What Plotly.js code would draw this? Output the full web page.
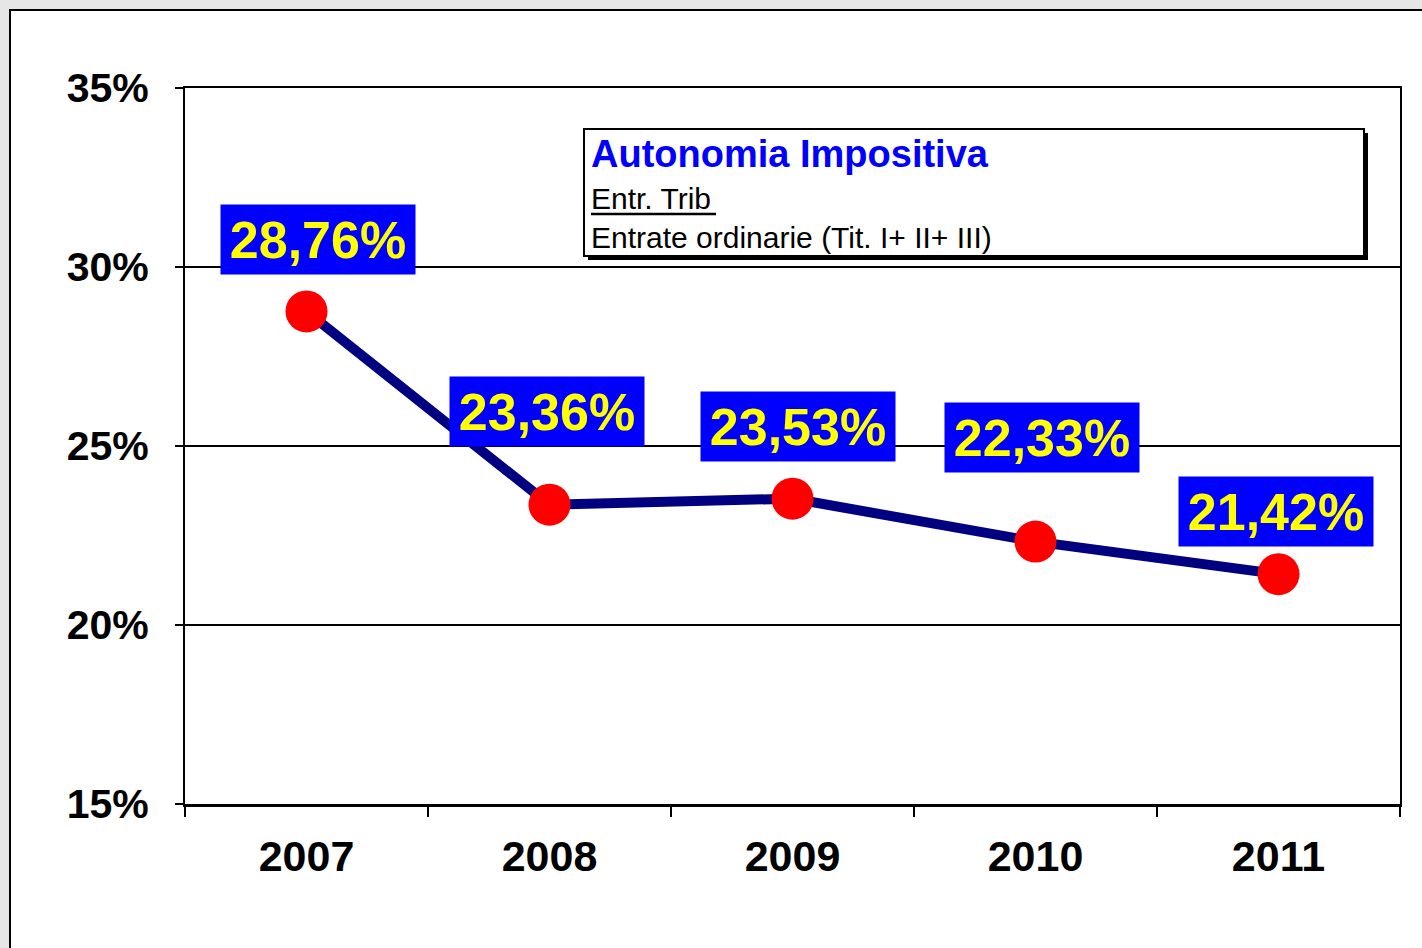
<!DOCTYPE html>
<html><head><meta charset="utf-8">
<script src="https://cdn.plot.ly/plotly-3.0.1.min.js"></script>
<style>html,body{margin:0;padding:0;background:#e6e6e6;overflow:hidden;} #chart{width:1422px;height:948px;}</style>
</head><body><div id="chart"></div>
<script>
// ---- data ----
const years = ['2007', '2008', '2009', '2010', '2011'];
const autonomia = [28.76, 23.36, 23.53, 22.33, 21.42];
const yTickVals = [15, 20, 25, 30, 35];
const yTickLabels = ['15%', '20%', '25%', '30%', '35%'];
const legendTitle = 'Autonomia Impositiva';
const legendNum = 'Entr. Trib';
const legendDen = 'Entrate ordinarie (Tit. I+ II+ III)';

// ---- label placement (pixel offsets from each point) ----
const labelDX = [11, -3, 5, 6, -3];
const labelDY = [72, 93, 72, 104, 63];

const W = 1422, H = 948, L = 185, R = 1400, T = 88, B = 804;
const px = x => (x - L) / (R - L);
const py = y => (B - y) / (B - T);
const FONT = '"Liberation Sans", Arial, Helvetica, sans-serif';

const fmt = v => v.toFixed(2).replace('.', ',') + '%';

const trace = {
  type: 'scatter', mode: 'lines+markers',
  x: years, y: autonomia,
  line: {color: '#000080', width: 10},
  marker: {color: '#ff0000', size: 42},
  cliponaxis: false, hoverinfo: 'skip', showlegend: false
};

const annotations = years.map((yr, i) => ({
  x: i, y: autonomia[i], xref: 'x', yref: 'y',
  text: '<b>' + fmt(autonomia[i]) + '</b>',
  showarrow: false, xshift: labelDX[i], yshift: labelDY[i],
  bgcolor: '#0000ff', borderpad: 2, width: 190, height: 65,
  font: {family: FONT, size: 52, color: '#ffff00'}
}));

annotations.push(
  {xref: 'paper', yref: 'paper', x: px(589), y: py(154), xanchor: 'left', yanchor: 'middle',
   text: '<b>' + legendTitle + '</b>', showarrow: false,
   font: {family: FONT, size: 38, color: '#0000ff'}},
  {xref: 'paper', yref: 'paper', x: px(589), y: py(198), xanchor: 'left', yanchor: 'middle',
   text: legendNum, showarrow: false,
   font: {family: FONT, size: 30, color: '#000000'}},
  {xref: 'paper', yref: 'paper', x: px(589), y: py(238), xanchor: 'left', yanchor: 'middle',
   text: legendDen, showarrow: false,
   font: {family: FONT, size: 30, color: '#000000'}}
);

const shapes = [
  // outer frame
  {type: 'rect', xref: 'paper', yref: 'paper', layer: 'below',
   x0: px(10), x1: px(1450), y0: py(10), y1: py(980),
   fillcolor: '#ffffff', line: {color: '#000000', width: 2}},
  // legend shadow
  {type: 'rect', xref: 'paper', yref: 'paper', layer: 'above',
   x0: px(588), x1: px(1368), y0: py(133), y1: py(260),
   fillcolor: '#000000', line: {width: 0}},
  // legend box
  {type: 'rect', xref: 'paper', yref: 'paper', layer: 'above',
   x0: px(584), x1: px(1364), y0: py(129), y1: py(256),
   fillcolor: '#ffffff', line: {color: '#000000', width: 2}},
  // fraction bar
  {type: 'line', xref: 'paper', yref: 'paper', layer: 'above',
   x0: px(591), x1: px(716), y0: py(214), y1: py(214),
   line: {color: '#000000', width: 2.5}}
];

const layout = {
  width: W, height: H,
  margin: {l: L, r: W - R, t: T, b: H - B, pad: 0},
  paper_bgcolor: '#e6e6e6', plot_bgcolor: '#ffffff',
  font: {family: FONT, color: '#000000'},
  showlegend: false,
  xaxis: {
    type: 'category', range: [-0.5, 4.5], tickson: 'boundaries',
    ticks: 'outside', ticklen: 10, tickwidth: 2, tickcolor: '#000000',
    showline: true, linecolor: '#000000', linewidth: 2.5, mirror: true,
    showgrid: false, zeroline: false, fixedrange: true,
    tickfont: {family: FONT, size: 43, color: '#000000', weight: 'bold'},
    ticklabelstandoff: 13
  },
  yaxis: {
    range: [15, 35], tickvals: yTickVals, ticktext: yTickLabels,
    ticks: 'outside', ticklen: 8, tickwidth: 2, tickcolor: '#000000',
    showline: true, linecolor: '#000000', linewidth: 2, mirror: true,
    showgrid: true, gridcolor: '#000000', gridwidth: 2, zeroline: false, fixedrange: true,
    tickfont: {family: FONT, size: 41, color: '#000000', weight: 'bold'},
    ticklabelstandoff: 18
  },
  shapes: shapes,
  annotations: annotations
};

Plotly.newPlot('chart', [trace], layout, {displayModeBar: false, staticPlot: true});
</script>
</body></html>
